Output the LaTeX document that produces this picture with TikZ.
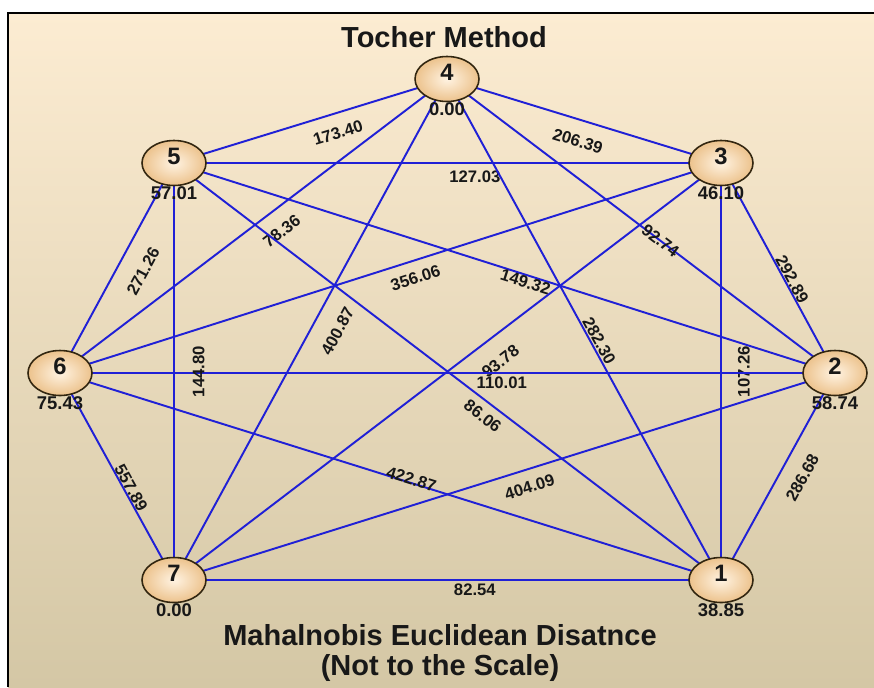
\documentclass[tikz,border=0pt]{standalone}
\usepackage{fontspec}
\setmainfont{Liberation Sans}
\usetikzlibrary{shapes.geometric,backgrounds}
\definecolor{tochbg}{RGB}{252,236,210}
\definecolor{tochbgdark}{RGB}{212,199,165}
\definecolor{tochblue}{RGB}{32,32,214}
\definecolor{tochball}{RGB}{236,194,140}
\definecolor{tochballhi}{RGB}{255,243,226}
\definecolor{tochrim}{RGB}{50,38,16}
\definecolor{tochtext}{RGB}{24,24,24}

\begin{document}
\begin{tikzpicture}[x=0.02cm, y=-0.02cm,
        geno/.style={ellipse, draw=tochrim, line width=0.9pt, inner color=tochballhi, outer color=tochball, minimum width=1.28cm, minimum height=0.9cm, inner sep=0pt, text depth=8pt, text=tochtext, font=\fontsize{13.5}{14}\selectfont\bfseries, label distance=2pt},
        val/.style={font=\fontsize{10.5}{11}\selectfont\bfseries, text=tochtext, inner sep=0pt},
        link/.style={tochblue, line width=1.1pt},
        dist/.style={sloped, inner sep=0pt, text=tochtext, font=\fontsize{9.5}{10}\selectfont\bfseries},
        heading/.style={font=\fontsize{16.5}{17}\selectfont\bfseries, text=tochtext, align=center}
    ]
        \useasboundingbox (0,0) rectangle (874,687);

        % Nodes
        \node (g4) [geno, label={[val]below:0.00}] at (447,79) {4};
        \node (g5) [geno, label={[val]below:57.01}] at (174,163) {5};
        \node (g3) [geno, label={[val]below:46.10}] at (721,163) {3};
        \node (g6) [geno, label={[val]below:75.43}] at (60,373) {6};
        \node (g2) [geno, label={[val]below:58.74}] at (835,373) {2};
        \node (g7) [geno, label={[val]below:0.00}] at (174,580) {7};
        \node (g1) [geno, label={[val]below:38.85}] at (721,580) {1};

        % Titles
        \node (title) [heading] at (444,37) {Tocher Method};
        \node (note) [heading] at (440,653) {Mahalnobis Euclidean Disatnce\\(Not to the Scale)};

        \begin{scope}[on background layer]
        % Panel
        \fill[top color=tochbg, bottom color=tochbgdark] (8,13) rectangle (874,687);
        \draw[black, line width=1.2pt] (8,687) -- (8,13) -- (874,13);

        % Links
        \draw[link] (g5.center) -- node[dist, pos=0.58, yshift=-11pt] {173.40} (g4.center);
        \draw[link] (g4.center) -- node[dist, pos=0.50, yshift=-12pt] {206.39} (g3.center);
        \draw[link] (g5.center) -- node[dist, pos=0.55, yshift=-8pt] {127.03} (g3.center);
        \draw[link] (g6.center) -- node[dist, pos=0.54, yshift=-12pt] {78.36} (g4.center);
        \draw[link] (g5.center) -- node[dist, pos=0.58, yshift=-8pt] {86.06} (g1.center);
        \draw[link] (g6.center) -- node[dist, pos=0.53, yshift=-9.7pt] {356.06} (g3.center);
        \draw[link] (g5.center) -- node[dist, pos=0.535, yshift=-4pt] {149.32} (g2.center);
        \draw[link] (g4.center) -- node[dist, pos=0.55] {92.74} (g2.center);
        \draw[link] (g3.center) -- node[dist, pos=0.57, yshift=4pt] {292.89} (g2.center);
        \draw[link] (g4.center) -- node[dist, pos=0.53, yshift=4.5pt] {282.30} (g1.center);
        \draw[link] (g1.center) -- node[dist, allow upside down, pos=0.5, yshift=-13pt] {107.26} (g3.center);
        \draw[link] (g7.center) -- node[dist, pos=0.57, yshift=-13.7pt] {93.78} (g3.center);
        \draw[link] (g6.center) -- node[dist, pos=0.57, yshift=-5.7pt] {110.01} (g2.center);
        \draw[link] (g7.center) -- node[dist, pos=0.52, yshift=-14pt] {400.87} (g4.center);
        \draw[link] (g7.center) -- node[dist, allow upside down, pos=0.5, yshift=-14pt] {144.80} (g5.center);
        \draw[link] (g6.center) -- node[dist, pos=0.54, yshift=-14pt] {271.26} (g5.center);
        \draw[link] (g6.center) -- node[dist, pos=0.57, yshift=4pt] {557.89} (g7.center);
        \draw[link] (g6.center) -- node[dist, pos=0.53, yshift=2pt] {422.87} (g1.center);
        \draw[link] (g7.center) -- node[dist, pos=0.53, yshift=-10pt] {404.09} (g2.center);
        \draw[link] (g1.center) -- node[dist, pos=0.545, yshift=-12.5pt] {286.68} (g2.center);
        \draw[link] (g7.center) -- node[dist, pos=0.55, yshift=-5.7pt] {82.54} (g1.center);
        \end{scope}
    \end{tikzpicture}
\end{document}
